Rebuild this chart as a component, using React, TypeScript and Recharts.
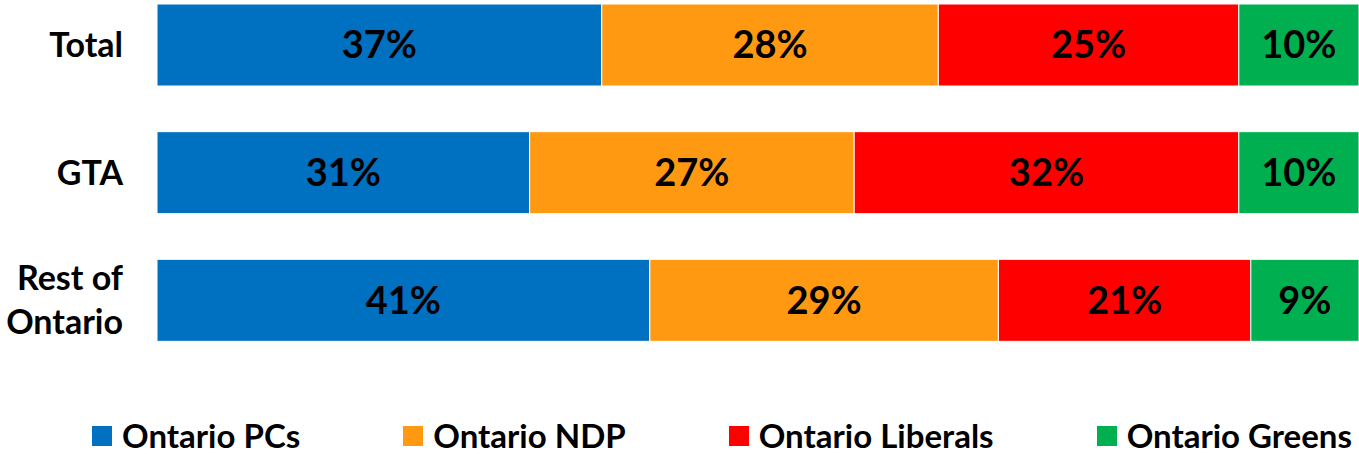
import React from 'react';
import { BarChart, Bar, XAxis, YAxis, Legend, LabelList } from 'recharts';

const categories = ['Total', 'GTA', 'Rest of Ontario'];
const pcs = [37, 31, 41];
const ndp = [28, 27, 29];
const liberals = [25, 32, 21];
const greens = [10, 10, 9];

const seriesNames = ['Ontario PCs', 'Ontario NDP', 'Ontario Liberals', 'Ontario Greens'];
const seriesKeys = ['pcs', 'ndp', 'liberals', 'greens'];
const colors = ['#0070C0', '#FF9912', '#FF0000', '#00B050'];

const data = categories.map((name, i) => ({
  name,
  pcs: pcs[i],
  ndp: ndp[i],
  liberals: liberals[i],
  greens: greens[i],
}));

const FONT = 'Lato, "Open Sans", sans-serif';

const CategoryTick = (props: any) => {
  const { x, y, payload } = props;
  const label: string = payload.value;
  const lines = label === 'Rest of Ontario' ? ['Rest of', 'Ontario'] : [label];
  const lh = 44;
  const startDy = -((lines.length - 1) * lh) / 2;
  return (
    <text
      x={x - 26}
      y={y}
      textAnchor="end"
      fontFamily={FONT}
      fontWeight={700}
      fontSize={34}
      fill="#000"
    >
      {lines.map((l, i) => (
        <tspan key={i} x={x - 26} dy={i === 0 ? startDy + 12 : lh}>
          {l}
        </tspan>
      ))}
    </text>
  );
};

const renderLegend = () => (
  <div
    style={{
      display: 'flex',
      alignItems: 'center',
      justifyContent: 'space-between',
      height: 35,
      marginLeft: 92,
      width: 1260,
      fontFamily: FONT,
      fontWeight: 700,
      fontSize: 33,
      lineHeight: '35px',
      color: '#000',
      whiteSpace: 'nowrap',
      overflow: 'visible',
    }}
  >
    {seriesNames.map((n, i) => (
      <div key={n} style={{ display: 'flex', alignItems: 'center', flexShrink: 0 }}>
        <span style={{ display: 'inline-block', width: 20, height: 20, background: colors[i], marginRight: 10 }} />
        <span>{n}</span>
      </div>
    ))}
  </div>
);

export default function App() {
  return (
    <div style={{ position: 'absolute', left: 0, top: 0, width: 1359, height: 454, overflow: 'hidden', background: '#fff' }}>
      <div style={{ position: 'absolute', left: 0, top: -19 }}>
        <BarChart
          width={1359}
          height={473}
          data={data}
          layout="vertical"
          margin={{ top: 0, right: 0, bottom: 55, left: 0 }}
        >
          <XAxis type="number" domain={[0, 100]} hide />
          <YAxis
            type="category"
            dataKey="name"
            width={157}
            axisLine={false}
            tickLine={false}
            tick={<CategoryTick />}
            interval={0}
          />
          <Legend
            content={renderLegend}
            verticalAlign="bottom"
            wrapperStyle={{ position: 'absolute', left: 0, top: 437, width: 1359, height: 35 }}
          />
          {seriesKeys.map((k, i) => (
            <Bar
              key={k}
              dataKey={k}
              name={seriesNames[i]}
              stackId="a"
              fill={colors[i]}
              stroke="#ffffff"
              strokeWidth={1}
              barSize={82}
              isAnimationActive={false}
            >
              <LabelList
                dataKey={k}
                position="center"
                formatter={(v: any) => `${v}%`}
                fill="#000"
                fontFamily={FONT}
                fontWeight={700}
                fontSize={38}
              />
            </Bar>
          ))}
        </BarChart>
      </div>
    </div>
  );
}
